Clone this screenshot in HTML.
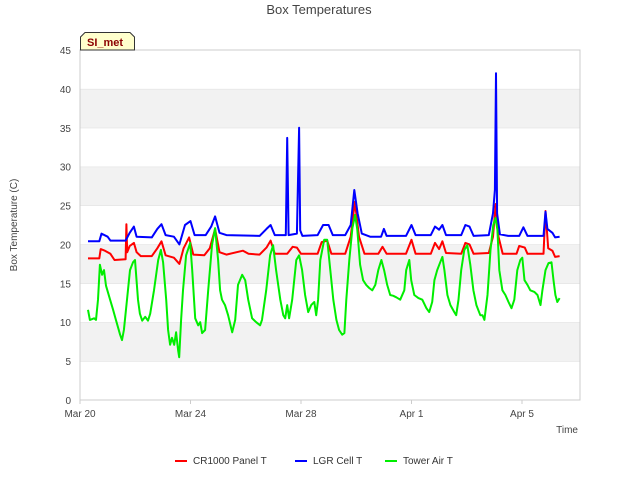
<!DOCTYPE html>
<html><head><meta charset="utf-8"><style>body{margin:0;background:#fff}svg{display:block;font-family:"Liberation Sans","DejaVu Sans",sans-serif}</style></head>
<body>
<svg id="chart" width="640" height="480" viewBox="0 0 640 480">
<rect width="640" height="480" fill="#fff"/>
<g id="bands"></g>
<rect x="80" y="50" width="500" height="350" fill="none" stroke="#ccc"/>
<g id="yticks"></g><g id="xticks"></g><g id="series"></g>
<text x="319" y="14" text-anchor="middle" font-size="13" fill="#444">Box Temperatures</text>
<text transform="translate(17,225) rotate(-90)" text-anchor="middle" font-size="10" fill="#444">Box Temperature (C)</text>
<text x="578" y="433" text-anchor="end" font-size="10" fill="#444">Time</text>
<g>
<path d="M80.5,50 L80.5,37 L85,32.5 L130,32.5 L134.5,37 L134.5,50 Z" fill="#ffffcc" stroke="#333"/>
<text x="87" y="46" font-size="11" font-weight="bold" fill="#8b0000">SI_met</text></g>
<g id="legend"></g>
</svg>
<script>
const yTicks=[0,5,10,15,20,25,30,35,40,45];
const xTickDays=[0,4,8,12,16];
const xTickLabels=["Mar 20","Mar 24","Mar 28","Apr 1","Apr 5"];
const seriesNames=["CR1000 Panel T","LGR Cell T","Tower Air T"];
const seriesColors=["#ff0000","#0000ff","#00ee00"];
const redT=[0.29,0.7,0.75,0.9,1.1,1.25,1.65,1.68,1.71,1.8,1.95,2.05,2.2,2.6,2.8,2.95,3.1,3.4,3.6,3.75,3.95,4.1,4.5,4.7,4.89,5.05,5.3,5.9,6.1,6.5,6.75,6.9,7.05,7.5,7.7,7.85,8.0,8.6,8.75,8.95,9.1,9.6,9.8,9.95,10.1,10.3,10.8,10.95,11.1,11.8,12.0,12.15,12.7,12.85,13.0,13.12,13.25,13.8,13.95,14.1,14.25,14.8,14.95,15.05,15.15,15.3,15.8,15.9,16.1,16.2,16.78,16.85,16.95,17.1,17.2,17.36];
const redV=[18.2,18.2,19.4,19.2,18.8,18.0,18.1,22.6,19.0,19.8,20.2,19.0,18.5,18.5,19.5,20.4,18.6,18.3,17.5,19.5,20.9,18.7,18.6,19.5,22.0,19.0,18.7,19.2,18.8,18.7,19.6,20.5,18.8,18.8,19.7,19.6,18.8,18.8,20.3,20.5,18.8,18.8,21.0,25.5,21.0,18.8,18.8,19.7,18.8,18.8,20.6,18.8,18.8,20.2,19.4,20.4,18.9,18.8,20.2,20.0,18.8,18.9,21.0,25.2,21.0,18.8,18.8,19.8,19.6,18.8,18.8,24.3,19.5,19.2,18.4,18.5];
const blueT=[0.29,0.7,0.78,1.0,1.1,1.65,1.8,1.95,2.05,2.6,2.8,2.95,3.1,3.4,3.6,3.8,4.0,4.15,4.55,4.75,4.89,5.05,5.3,6.5,6.75,6.9,7.05,7.45,7.5,7.55,7.85,7.93,7.97,8.05,8.6,8.8,9.0,9.15,9.6,9.8,9.93,10.05,10.2,10.5,10.9,11.0,11.1,11.8,12.0,12.15,12.7,12.85,13.0,13.12,13.25,13.8,13.95,14.1,14.25,14.8,14.95,15.02,15.06,15.1,15.2,15.5,15.9,16.05,16.2,16.78,16.85,16.92,17.1,17.2,17.36];
const blueV=[20.4,20.4,21.4,21.0,20.5,20.5,21.5,22.3,21.0,20.9,22.0,22.6,21.2,21.0,20.0,22.5,23.0,21.2,21.2,22.3,23.6,21.5,21.2,21.1,22.0,22.5,21.2,21.2,33.7,21.2,21.4,35.0,21.8,21.1,21.2,22.5,22.5,21.2,21.2,22.5,27.0,24.0,21.4,21.0,21.0,22.0,21.1,21.1,22.5,21.2,21.2,22.3,21.9,22.5,21.2,21.2,22.5,22.3,21.1,21.2,24.0,27.0,42.0,24.0,21.3,21.1,21.1,22.2,21.1,21.1,24.2,22.0,21.5,20.9,21.0];
const greenT=[0.29,0.36,0.51,0.58,0.65,0.72,0.80,0.87,0.94,1.09,1.20,1.30,1.45,1.52,1.59,1.70,1.81,1.92,1.99,2.10,2.17,2.25,2.36,2.46,2.54,2.68,2.83,2.93,3.01,3.12,3.19,3.26,3.33,3.41,3.48,3.55,3.59,3.66,3.73,3.84,3.99,4.06,4.17,4.28,4.35,4.42,4.53,4.64,4.78,4.89,5.0,5.07,5.14,5.25,5.36,5.51,5.62,5.72,5.87,5.98,6.09,6.23,6.38,6.52,6.59,6.74,6.88,6.99,7.10,7.25,7.36,7.43,7.50,7.57,7.68,7.83,7.93,8.04,8.15,8.26,8.37,8.48,8.55,8.62,8.70,8.84,8.95,9.06,9.17,9.28,9.38,9.49,9.57,9.64,9.75,9.86,9.96,10.04,10.14,10.25,10.36,10.47,10.58,10.69,10.80,10.91,11.01,11.12,11.23,11.34,11.45,11.59,11.74,11.81,11.92,11.99,12.10,12.25,12.39,12.54,12.64,12.75,12.83,12.93,13.04,13.12,13.19,13.30,13.41,13.55,13.62,13.70,13.80,13.91,14.02,14.13,14.24,14.35,14.49,14.57,14.64,14.75,14.86,14.96,15.04,15.11,15.18,15.29,15.40,15.51,15.62,15.72,15.83,15.94,16.01,16.09,16.20,16.30,16.45,16.56,16.67,16.74,16.85,16.96,17.07,17.14,17.21,17.28,17.36];
const greenV=[11.6,10.3,10.5,10.3,12.9,17.4,16.1,16.7,14.7,12.9,11.6,10.3,8.4,7.7,9.0,12.9,16.7,17.7,18.0,12.9,11.1,10.2,10.7,10.2,11.1,14.1,18.0,19.3,17.7,12.9,9.0,7.1,8.0,7.1,8.7,6.4,5.5,10.3,14.1,18.6,20.2,16.7,10.5,9.6,10.0,8.6,9.0,14.1,19.9,22.1,18.0,14.1,12.9,12.2,10.9,8.7,10.3,14.8,16.1,15.4,12.9,10.5,10.0,9.6,10.3,14.1,18.6,19.9,16.7,12.9,10.9,10.5,12.2,10.5,12.9,18.0,18.6,16.7,13.5,11.3,12.2,12.6,10.9,12.9,18.0,20.6,20.6,16.7,12.9,10.3,9.0,8.4,8.6,12.9,18.0,22.1,23.8,21.9,17.4,15.4,14.8,14.4,14.1,14.8,16.7,18.0,16.7,14.8,13.5,13.4,13.2,12.9,14.1,16.7,18.0,15.4,13.5,13.1,12.9,11.8,11.3,12.6,15.4,16.7,17.7,18.4,16.7,13.5,12.2,11.3,10.9,12.9,16.7,19.3,19.9,17.4,14.1,12.2,10.9,10.9,10.3,13.5,19.3,22.5,23.4,21.9,16.7,14.1,13.5,12.6,11.8,12.9,16.7,18.0,18.3,15.4,14.8,14.1,13.9,13.5,12.2,14.1,16.7,17.6,17.7,15.4,13.5,12.6,13.1];
const NS="http://www.w3.org/2000/svg";
const X0=80,X1=580,Y0=400,Y1=50,DMAX=18.1,VMAX=45;
function xs(d){return X0+d*(X1-X0)/DMAX;}
function ys(v){return Y0-v*(Y0-Y1)/VMAX;}
function mk(t,a,p){const e=document.createElementNS(NS,t);for(const k in a)e.setAttribute(k,a[k]);p.appendChild(e);return e;}
const bands=document.getElementById('bands');
for(let i=0;i<yTicks.length-1;i++){
  const r=mk('rect',{x:X0,y:ys(yTicks[i+1]),width:X1-X0,height:ys(yTicks[i])-ys(yTicks[i+1]),fill:(i%2===1)?'#f2f2f2':'#ffffff'},bands);
  
  
  const l=mk('line',{x1:X0,x2:X1,y1:ys(yTicks[i+1]),y2:ys(yTicks[i+1]),stroke:'#dcdcdc'},bands);
  
  
}
const yt=document.getElementById('yticks');
yTicks.forEach(v=>{const t=mk('text',{x:71,y:ys(v)+4,'text-anchor':'end','font-size':10,fill:'#444'},yt);t.textContent=v;
  
  });
const xt=document.getElementById('xticks');
xTickDays.forEach((d,i)=>{const t=mk('text',{x:xs(d),y:417,'text-anchor':'middle','font-size':10,fill:'#444'},xt);t.textContent=xTickLabels[i];
  
  
  const l=mk('line',{x1:xs(d),x2:xs(d),y1:400,y2:404,stroke:'#ccc'},xt);
  
  });
const sg=document.getElementById('series');
const all=[[redT,redV],[blueT,blueV],[greenT,greenV]];
all.forEach((s,i)=>{const pts=s[0].map((d,j)=>xs(d).toFixed(1)+','+ys(s[1][j]).toFixed(1)).join(' ');
  const p=mk('polyline',{points:pts,fill:'none',stroke:seriesColors[i],'stroke-width':2,'stroke-linejoin':'round'},sg);
  
  });
const lg=document.getElementById('legend');
const lx=[175,295,385];
seriesNames.forEach((n,i)=>{const g=mk('g',{},lg);
  
  
  mk('line',{x1:lx[i],x2:lx[i]+12,y1:461,y2:461,stroke:seriesColors[i],'stroke-width':2},g);
  const t=mk('text',{x:lx[i]+18,y:464,'font-size':10,fill:'#333'},g);t.textContent=n;});
</script>
</body></html>
